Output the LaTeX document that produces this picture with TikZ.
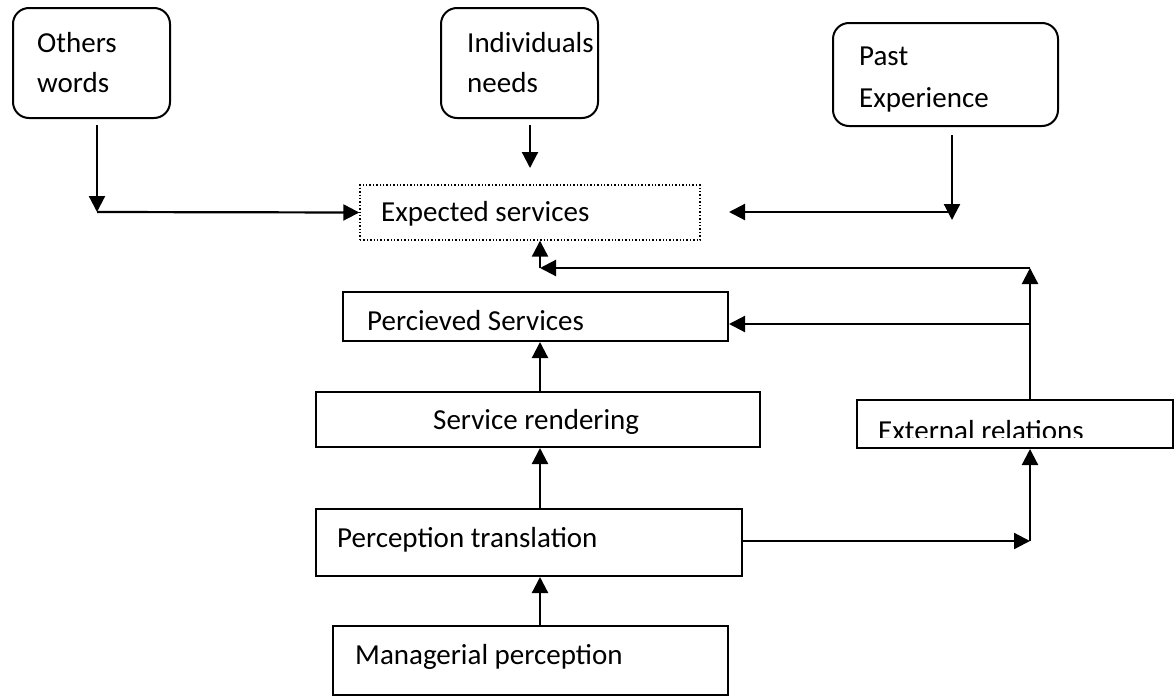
\documentclass[tikz,border=0pt]{standalone}
\usepackage{fontspec}
\setmainfont{Carlito}
\usetikzlibrary{arrows.meta}
\begin{document}
\begin{tikzpicture}[x=1pt,y=-1pt,
  box/.style={draw,line width=2pt,rectangle,inner sep=0pt},
  rbox/.style={box,rounded corners=16pt},
  dbox/.style={draw,line width=1.4pt,dotted,rectangle,inner sep=0pt},
  txt/.style={anchor=base west,inner sep=0pt,font=\fontsize{29}{42}\selectfont},
  arr/.style={line width=2.2pt,-{Triangle[length=16pt,width=16pt]}}]
\useasboundingbox (0,0) rectangle (1174,696);
\fill[white] (0,0) rectangle (1174,696);
% boxes
\node[rbox,minimum width=157pt,minimum height=110pt] (ow) at (91.5,63) {};
\node[rbox,minimum width=157pt,minimum height=110pt] (in) at (519.5,63) {};
\node[rbox,minimum width=225pt,minimum height=103pt] (pe) at (945.5,74.5) {};
\node[dbox,minimum width=340pt,minimum height=55pt] (es) at (530,212.5) {};
\node[box,minimum width=385pt,minimum height=49pt] (ps) at (535.5,316.5) {};
\node[box,minimum width=444pt,minimum height=55pt] (sr) at (538,419.5) {};
\node[box,minimum width=316pt,minimum height=48pt] (er) at (1014.5,424) {};
\node[box,minimum width=426pt,minimum height=67pt] (pt) at (529,542.5) {};
\node[box,minimum width=395pt,minimum height=69pt] (mp) at (530.5,660.5) {};
% texts
\node[txt] (owt1) at (37,52) {Others};
\node[txt] (owt2) at (37,92) {words};
\node[txt] (int1) at (467,52) {Individuals};
\node[txt] (int2) at (467,92) {needs};
\node[txt] (pet1) at (859,65) {Past};
\node[txt] (pet2) at (859,107) {Experience};
\node[txt] (est) at (381,221) {Expected services};
\node[txt] (pst) at (367,330) {Percieved Services};
\node[txt] (srt) at (433,429) {Service rendering};
\begin{scope}
\clip (858,402) rectangle (1172,437.5);
\node[txt] (ert) at (878,440) {External relations};
\end{scope}
\node[txt] (ptt) at (337,547) {Perception translation};
\node[txt] (mpt) at (355,664) {Managerial perception};
% coordinates
\coordinate (a0) at (97,125);
\coordinate (a1) at (97,212);
\coordinate (b0) at (530,125);
\coordinate (b1) at (530,168);
\coordinate (c0) at (952,135);
\coordinate (c1) at (952,212);
\coordinate (c1b) at (952,220);
\coordinate (c2) at (729,212);
\coordinate (d1) at (1030,268);
\coordinate (d2) at (540,268);
\coordinate (d3) at (1030,324);
\coordinate (x540) at (540,0);
\coordinate (x1030) at (1030,0);
\coordinate (e1) at (1030,541);
% connectors
\draw[arr] (a0) -- (a1);
\draw[arr] (a1) -- (es.west);
\draw[arr] (b0) -- (b1);
\draw[arr] (c0) -- (c1b);
\draw[arr] (c1) -- (c2);
\draw[arr] (er.north -| x1030) -- (d1);
\draw[arr] (d1) -- (d2);
\draw[arr] (d2) -- (es.south -| x540);
\draw[arr] (d3) -- (ps.east |- d3);
\draw[arr] (sr.north -| x540) -- (ps.south -| x540);
\draw[arr] (pt.north -| x540) -- (sr.south -| x540);
\draw[arr] (mp.north -| x540) -- (pt.south -| x540);
\draw[arr] (pt.east |- e1) -- (e1);
\draw[arr] (e1) -- (er.south -| x1030);
\end{tikzpicture}
\end{document}
